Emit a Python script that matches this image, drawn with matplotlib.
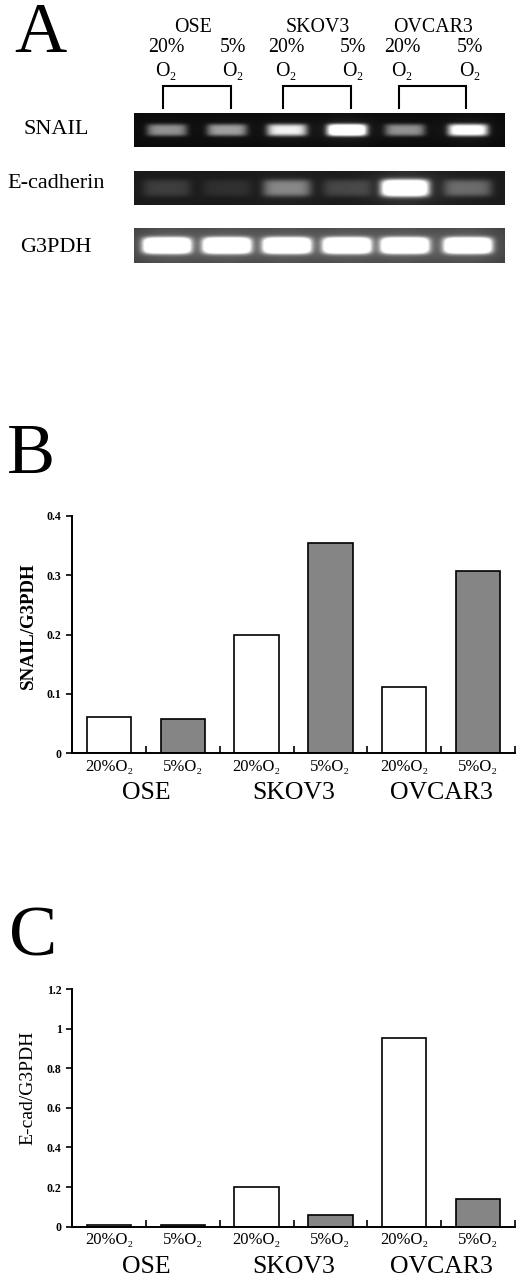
import numpy as np
import matplotlib
matplotlib.use("Agg")
import matplotlib.pyplot as plt

plt.rcParams['font.family'] = ['Liberation Serif', 'DejaVu Serif']

# ---------------- data ----------------
cell_lines = ["OSE", "SKOV3", "OVCAR3"]
conditions = ["20%O\u2082", "5%O\u2082"]
header_pct = ["20%", "5%"]
gel_rows = ["SNAIL", "E-cadherin", "G3PDH"]

# relative band intensities (lanes: OSE20, OSE5, SKOV3-20, SKOV3-5, OVCAR3-20, OVCAR3-5)
snail_band = [0.38, 0.42, 0.65, 1.00, 0.38, 0.80]
ecad_band = [0.10, 0.06, 0.30, 0.12, 1.00, 0.22]
g3pdh_band = [1.00, 1.00, 1.00, 1.00, 1.00, 1.00]

snail_ratio = [0.060, 0.057, 0.200, 0.355, 0.111, 0.307]
ecad_ratio = [0.010, 0.010, 0.200, 0.060, 0.951, 0.140]

snail_yticks = [0, 0.1, 0.2, 0.3, 0.4]
snail_yticklabels = ["0", "0.1", "0.2", "0.3", "0.4"]
ecad_yticks = [0, 0.2, 0.4, 0.6, 0.8, 1.0, 1.2]
ecad_yticklabels = ["0", "0.2", "0.4", "0.6", "0.8", "1", "1.2"]

# ---------------- layout ----------------
W, H = 519, 1280
fig = plt.figure(figsize=(W / 100, H / 100), dpi=100)
fig.patch.set_facecolor("white")

def fx(x):
    return x / W

def fy(y):
    return 1 - y / H

# panel letters
for letter, (lx, ly) in zip("ABC", [(14, 52), (7, 473), (9, 956)]):
    fig.text(fx(lx), fy(ly), letter, fontsize=52, va="baseline", ha="left")

# ---------- Panel A (gel) ----------
axA = fig.add_axes([0, fy(270), 1, 270 / H])
axA.set_xlim(0, W)
axA.set_ylim(270, 0)
axA.axis("off")

gel_left, gel_right = 134, 505
lane_centers = [167, 227, 287, 347, 405, 468]
strips = [(113, 147), (171, 205), (228, 263)]
row_label_y = [130, 184, 248]

def gel_image(intens, top, bot, halfw, halfh, bg, halo, scale=3):
    w = gel_right - gel_left
    h = bot - top
    xs = gel_left + (np.arange(w * scale) + 0.5) / scale
    ys = top + (np.arange(h * scale) + 0.5) / scale
    X, Y = np.meshgrid(xs, ys)
    cy = (top + bot) / 2
    img = np.full(X.shape, bg)
    for xc, v in zip(lane_centers, intens):
        core = np.exp(-(np.abs(X - xc) / halfw) ** 6 - (np.abs(Y - cy) / halfh) ** 4)
        glow = np.exp(-((X - xc) / (halfw * 1.4)) ** 2 - ((Y - cy) / (halfh * 2.2)) ** 2)
        img += 1.3 * v * core + halo * v * glow
    return np.clip(img, 0, 1)

params = [
    (snail_band, 20, 6.0, 0.04, 0.10),
    (ecad_band, 24, 8.5, 0.10, 0.15),
    (g3pdh_band, 24, 8.0, 0.24, 0.18),
]
for (band, hw, hh, bg, halo), (top, bot), name, ly in zip(params, strips, gel_rows, row_label_y):
    img = gel_image(band, top, bot, hw, hh, bg, halo)
    axA.imshow(img, cmap="gray", vmin=0, vmax=1, extent=(gel_left, gel_right, bot, top),
               aspect="auto", interpolation="bilinear", origin="upper")
    axA.text(56, ly, name, fontsize=16, ha="center", va="center")

# headers
group_hdr_x = [193, 318, 433]
pct_x = [(166, 233), (286, 353), (402, 470)]
bracket_x = [(163, 231), (283, 351), (399, 466)]
for name, gx, (p1, p2), (b1, b2) in zip(cell_lines, group_hdr_x, pct_x, bracket_x):
    axA.text(gx, 28, name, fontsize=14.3, ha="center", va="center")
    for px, lab in zip((p1, p2), header_pct):
        axA.text(px, 48, lab, fontsize=14.3, ha="center", va="center")
        axA.text(px, 71, "O\u2082", fontsize=14.3, ha="center", va="center")
    axA.plot([b1, b1, b2, b2], [108, 86, 86, 108], color="black", lw=1.5,
             solid_joinstyle="miter")
axA.set_xlim(0, W)
axA.set_ylim(270, 0)

# ---------- bar panels ----------
bar_colors = ["white", "#858585"] * 3
xpos = np.arange(6) + 0.5

def bar_panel(top, bot, values, yticks, yticklabels, ylabel, ylabel_bold, ylabel_size, ylabel_yc):
    ax = fig.add_axes([fx(72), fy(bot), (515 - 72) / W, (bot - top) / H])
    ax.bar(xpos, values, width=0.6, color=bar_colors, edgecolor="black", linewidth=1.2)
    ax.set_xlim(0, 6)
    ax.set_ylim(yticks[0], yticks[-1])
    for s in ("top", "right"):
        ax.spines[s].set_visible(False)
    for s in ("left", "bottom"):
        ax.spines[s].set_linewidth(1.4)
    ax.set_yticks(yticks)
    ax.set_yticklabels(yticklabels, fontsize=8.5, fontweight="bold")
    ax.tick_params(axis="y", direction="out", length=4, width=1.2, pad=3.5)
    ax.set_xticks(np.arange(1, 7))
    ax.set_xticklabels([])
    ax.tick_params(axis="x", which="major", direction="in", length=5, width=1.2)
    ax.set_xticks(xpos, minor=True)
    ax.set_xticklabels(conditions * 3, minor=True, fontsize=12)
    ax.tick_params(axis="x", which="minor", length=0, pad=4)
    for i, name in enumerate(cell_lines):
        ax.annotate(name, xy=(2 * i + 1, 0), xycoords=("data", "axes fraction"),
                    xytext=(0, -40 * 0.72), textcoords="offset points",
                    ha="center", va="center", fontsize=18.5, annotation_clip=False)
    ax.text((28 - 72) / 443, ylabel_yc, ylabel, transform=ax.transAxes, rotation=90,
            ha="center", va="center", fontsize=ylabel_size,
            fontweight="bold" if ylabel_bold else "normal")
    ax.patch.set_alpha(0)
    return ax

bar_panel(516, 753, snail_ratio, snail_yticks, snail_yticklabels, "SNAIL/G3PDH", True, 13.6,
          (753 - 626) / (753 - 516))
bar_panel(989, 1226.7, ecad_ratio, ecad_yticks, ecad_yticklabels, "E-cad/G3PDH", False, 14,
          (1226.7 - 1088) / (1226.7 - 989))

fig.savefig("out.png", dpi=100, facecolor="white")
